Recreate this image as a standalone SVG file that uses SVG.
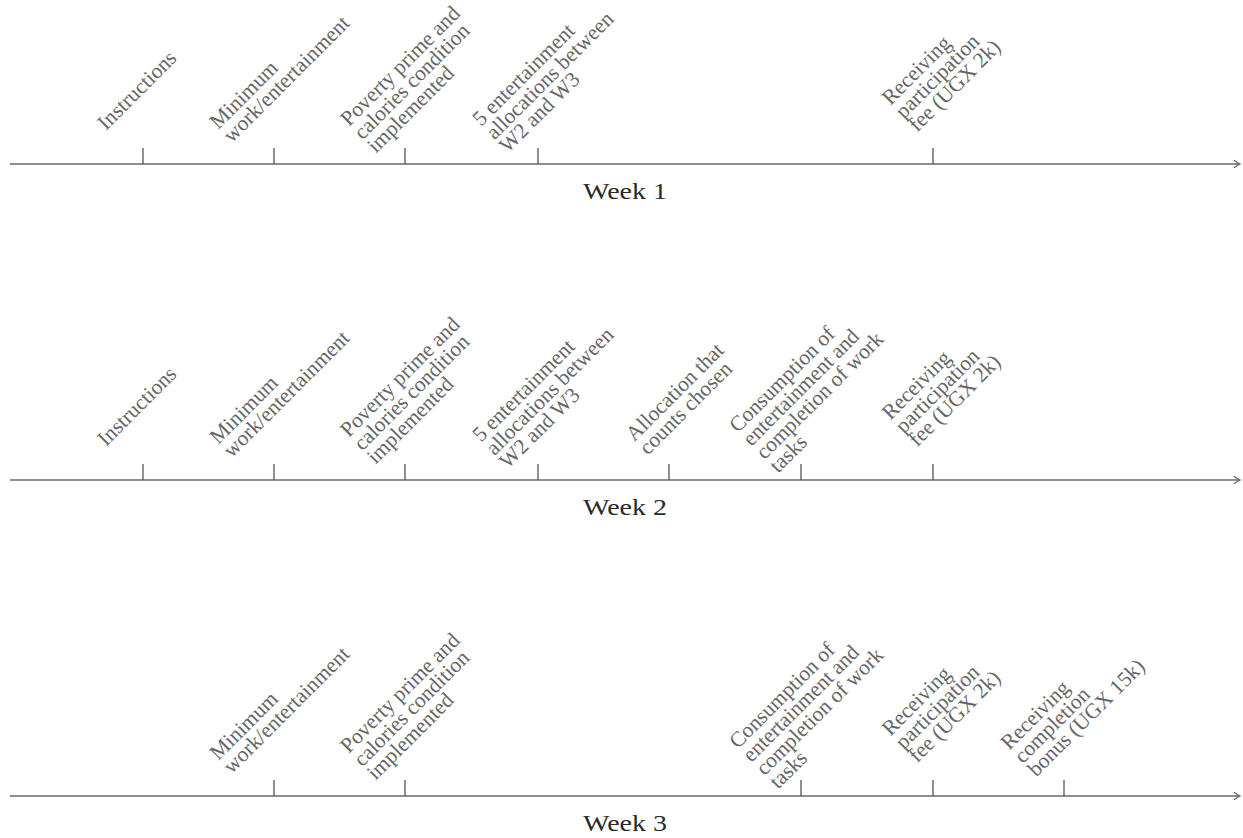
<svg xmlns="http://www.w3.org/2000/svg" width="1243" height="838" viewBox="0 0 1243 838">
<style>
.axis{stroke:#6a6a6a;stroke-width:1.5;fill:none}
.tick{stroke:#555;stroke-width:1.3}
.lbl{font-family:"Liberation Serif","Times New Roman",serif;font-size:21.5px;fill:#666}
.week{font-family:"Liberation Serif","Times New Roman",serif;font-size:24px;fill:#2a2a2a;text-anchor:middle}
</style>
<defs>
<marker id="arr" viewBox="-8 -5 10 10" refX="0" refY="0" markerWidth="10" markerHeight="10" markerUnits="userSpaceOnUse" orient="auto">
<path d="M-6,-3.8 Q-2.5,-1 0,0 Q-2.5,1 -6,3.8" fill="none" stroke="#6a6a6a" stroke-width="1.3"/>
</marker>
</defs>
<rect width="1243" height="838" fill="#fff"/>
<g id="connectors">
<line class="axis" x1="10" y1="164" x2="1240" y2="164" marker-end="url(#arr)"/>
<line class="axis" x1="10" y1="480" x2="1240" y2="480" marker-end="url(#arr)"/>
<line class="axis" x1="10" y1="796" x2="1240" y2="796" marker-end="url(#arr)"/>
</g>
<!-- Week 1 -->
<g id="w1-instructions"><line class="tick" x1="143" y1="148" x2="143" y2="164"/>
<g transform="translate(106,131) rotate(-45)"><text class="lbl"><tspan x="0" y="0">Instructions</tspan></text></g></g>
<g id="w1-minimum"><line class="tick" x1="274" y1="148" x2="274" y2="164"/>
<g transform="translate(218.3,130) rotate(-45)"><text class="lbl"><tspan x="0" y="0">Minimum</tspan><tspan x="0" dy="19">work/entertainment</tspan></text></g></g>
<g id="w1-poverty"><line class="tick" x1="405" y1="148" x2="405" y2="164"/>
<g transform="translate(349,127) rotate(-45)"><text class="lbl"><tspan x="0" y="0">Poverty prime and</tspan><tspan x="0" dy="19">calories condition</tspan><tspan x="0" dy="19">implemented</tspan></text></g></g>
<g id="w1-allocations"><line class="tick" x1="538" y1="148" x2="538" y2="164"/>
<g transform="translate(481,127) rotate(-45)"><text class="lbl"><tspan x="0" y="0">5 entertainment</tspan><tspan x="0" dy="19">allocations between</tspan><tspan x="0" dy="19">W2 and W3</tspan></text></g></g>
<g id="w1-fee"><line class="tick" x1="933" y1="148" x2="933" y2="164"/>
<g transform="translate(890.4,106) rotate(-45)"><text class="lbl"><tspan x="0" y="0">Receiving</tspan><tspan x="0" dy="19">participation</tspan><tspan x="0" dy="19">fee (UGX 2k)</tspan></text></g></g>
<g id="w1-title"><text class="week" x="625" y="199" textLength="84" lengthAdjust="spacingAndGlyphs">Week 1</text></g>
<!-- Week 2 -->
<g id="w2-instructions"><line class="tick" x1="143" y1="464" x2="143" y2="480"/>
<g transform="translate(106,447) rotate(-45)"><text class="lbl"><tspan x="0" y="0">Instructions</tspan></text></g></g>
<g id="w2-minimum"><line class="tick" x1="274" y1="464" x2="274" y2="480"/>
<g transform="translate(218.3,445) rotate(-45)"><text class="lbl"><tspan x="0" y="0">Minimum</tspan><tspan x="0" dy="19">work/entertainment</tspan></text></g></g>
<g id="w2-poverty"><line class="tick" x1="405" y1="464" x2="405" y2="480"/>
<g transform="translate(348.7,438) rotate(-45)"><text class="lbl"><tspan x="0" y="0">Poverty prime and</tspan><tspan x="0" dy="19">calories condition</tspan><tspan x="0" dy="19">implemented</tspan></text></g></g>
<g id="w2-allocations"><line class="tick" x1="538" y1="464" x2="538" y2="480"/>
<g transform="translate(481,442.7) rotate(-45)"><text class="lbl"><tspan x="0" y="0">5 entertainment</tspan><tspan x="0" dy="19">allocations between</tspan><tspan x="0" dy="19">W2 and W3</tspan></text></g></g>
<g id="w2-chosen"><line class="tick" x1="669" y1="464" x2="669" y2="480"/>
<g transform="translate(634.3,442.3) rotate(-45)"><text class="lbl"><tspan x="0" y="0">Allocation that</tspan><tspan x="0" dy="19">counts chosen</tspan></text></g></g>
<g id="w2-consumption"><line class="tick" x1="801" y1="464" x2="801" y2="480"/>
<g transform="translate(737.7,433.5) rotate(-45)"><text class="lbl"><tspan x="0" y="0">Consumption of</tspan><tspan x="0" dy="19">entertainment and</tspan><tspan x="0" dy="19">completion of work</tspan><tspan x="0" dy="19">tasks</tspan></text></g></g>
<g id="w2-fee"><line class="tick" x1="933" y1="464" x2="933" y2="480"/>
<g transform="translate(890.4,420.7) rotate(-45)"><text class="lbl"><tspan x="0" y="0">Receiving</tspan><tspan x="0" dy="19">participation</tspan><tspan x="0" dy="19">fee (UGX 2k)</tspan></text></g></g>
<g id="w2-title"><text class="week" x="625" y="515" textLength="84" lengthAdjust="spacingAndGlyphs">Week 2</text></g>
<!-- Week 3 -->
<g id="w3-minimum"><line class="tick" x1="274" y1="780" x2="274" y2="796"/>
<g transform="translate(218.3,761) rotate(-45)"><text class="lbl"><tspan x="0" y="0">Minimum</tspan><tspan x="0" dy="19">work/entertainment</tspan></text></g></g>
<g id="w3-poverty"><line class="tick" x1="405" y1="780" x2="405" y2="796"/>
<g transform="translate(348.7,754) rotate(-45)"><text class="lbl"><tspan x="0" y="0">Poverty prime and</tspan><tspan x="0" dy="19">calories condition</tspan><tspan x="0" dy="19">implemented</tspan></text></g></g>
<g id="w3-consumption"><line class="tick" x1="801" y1="780" x2="801" y2="796"/>
<g transform="translate(737.7,749.5) rotate(-45)"><text class="lbl"><tspan x="0" y="0">Consumption of</tspan><tspan x="0" dy="19">entertainment and</tspan><tspan x="0" dy="19">completion of work</tspan><tspan x="0" dy="19">tasks</tspan></text></g></g>
<g id="w3-fee"><line class="tick" x1="933" y1="780" x2="933" y2="796"/>
<g transform="translate(890.4,736.7) rotate(-45)"><text class="lbl"><tspan x="0" y="0">Receiving</tspan><tspan x="0" dy="19">participation</tspan><tspan x="0" dy="19">fee (UGX 2k)</tspan></text></g></g>
<g id="w3-bonus"><line class="tick" x1="1064" y1="780" x2="1064" y2="796"/>
<g transform="translate(1009.3,750.7) rotate(-45)"><text class="lbl"><tspan x="0" y="0">Receiving</tspan><tspan x="0" dy="19">completion</tspan><tspan x="0" dy="19">bonus (UGX 15k)</tspan></text></g></g>
<g id="w3-title"><text class="week" x="625" y="831" textLength="84" lengthAdjust="spacingAndGlyphs">Week 3</text></g>
</svg>
